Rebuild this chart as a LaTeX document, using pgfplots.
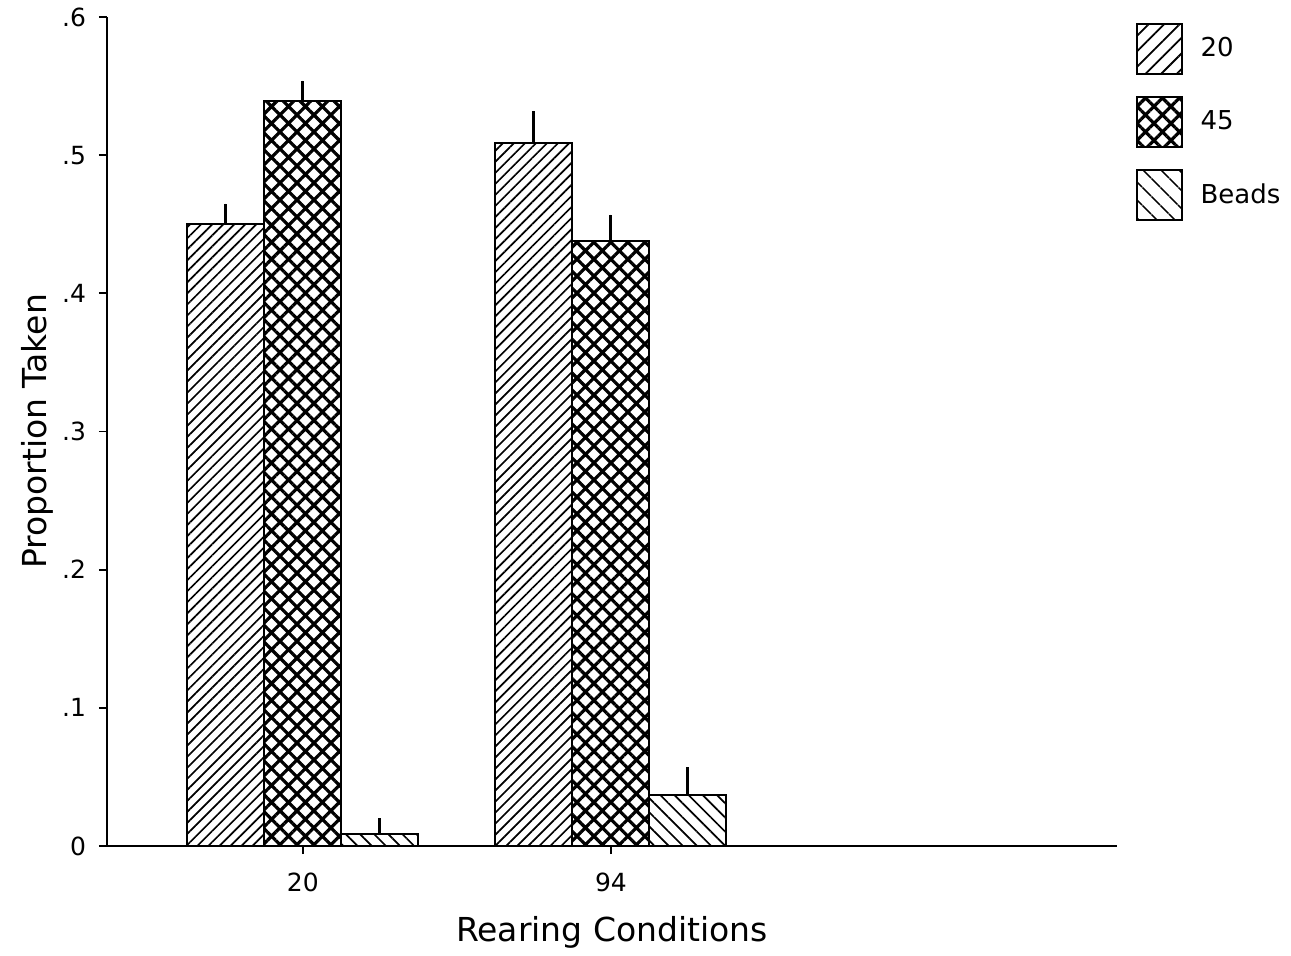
\documentclass[border=0pt]{standalone}
\usepackage{pgfplots}
\pgfplotsset{compat=1.18}
\usepackage{fontspec}
\setmainfont{DejaVu Sans}
\usetikzlibrary{patterns.meta}

\tikzset{
  pat20/.style={pattern={Lines[angle=45,distance=3.9pt,line width=0.85pt]}},
  pat45/.style={pattern={Hatch[angle=45,distance=6pt,line width=1.6pt]}},
  patBeads/.style={pattern={Lines[angle=-45,distance=5pt,line width=0.85pt]}},
}

\begin{document}
\begin{tikzpicture}
\begin{axis}[
  name=ax,
  scale only axis,
  width=505pt, height=414.5pt,
  xmin=-0.636, xmax=2.643,
  ymin=0, ymax=0.6,
  enlargelimits=false,
  axis x line=bottom, axis y line=left,
  axis line style={-, line width=1pt},
  xtick={0,1}, xticklabels={20,94},
  ytick={0,0.1,0.2,0.3,0.4,0.5,0.6},
  yticklabels={0,.1,.2,.3,.4,.5,.6},
  tick align=outside,
  major tick length=4pt,
  tick style={line width=0.9pt, black},
  tick label style={font=\fontsize{12.5}{14}\selectfont},
  xticklabel style={yshift=-6pt},
  yticklabel style={xshift=-3pt},
  xlabel={Rearing Conditions},
  ylabel={Proportion Taken},
  label style={font=\fontsize{16.5}{19}\selectfont},
  xlabel style={at={(axis description cs:0.5,-0.104)}, anchor=center},
  ylabel style={at={(axis description cs:-0.069,0.5)}, anchor=center},
  ybar, bar width=0.25,
  clip=false,
  legend style={draw=none, at={(1.012,0.9985)}, anchor=north west,
    font=\fontsize{13}{15}\selectfont, row sep=10.5pt,
    /tikz/every odd column/.append style={column sep=7pt}},
  legend cell align=left,
  legend image code/.code={\draw[#1, line width=1pt] (0pt,-12.5pt) rectangle (22.5pt,12.5pt);},
  error bars/y dir=plus, error bars/y explicit,
  error bars/error mark=none,
  error bars/error bar style={line width=1.5pt, black},
]
% legend swatches
\addlegendimage{draw=black, pattern={Lines[angle=45,distance=5.5pt,line width=0.9pt]}}
\addlegendentry{20}
\addlegendimage{draw=black, pattern={Hatch[angle=45,distance=6pt,line width=1.6pt]}}
\addlegendentry{45}
\addlegendimage{draw=black, pattern={Lines[angle=-45,distance=6.5pt,line width=0.9pt]}}
\addlegendentry{Beads}

% 20
\addplot[forget plot, draw=black, line width=1pt, pat20, bar shift=-0.25]
  coordinates {(0,0.450) +- (0,0.015) (1,0.509) +- (0,0.023)};
% 45
\addplot[forget plot, draw=black, line width=1pt, pat45, bar shift=0]
  coordinates {(0,0.539) +- (0,0.015) (1,0.438) +- (0,0.019)};
% Beads
\addplot[forget plot, draw=black, line width=1pt, patBeads, bar shift=0.25]
  coordinates {(0,0.009) +- (0,0.011) (1,0.037) +- (0,0.020)};
\end{axis}
% page extent
\path ([shift={(-53.5pt,-54.5pt)}]ax.south west) rectangle ([shift={(592pt,423pt)}]ax.south west);
\end{tikzpicture}
\end{document}
